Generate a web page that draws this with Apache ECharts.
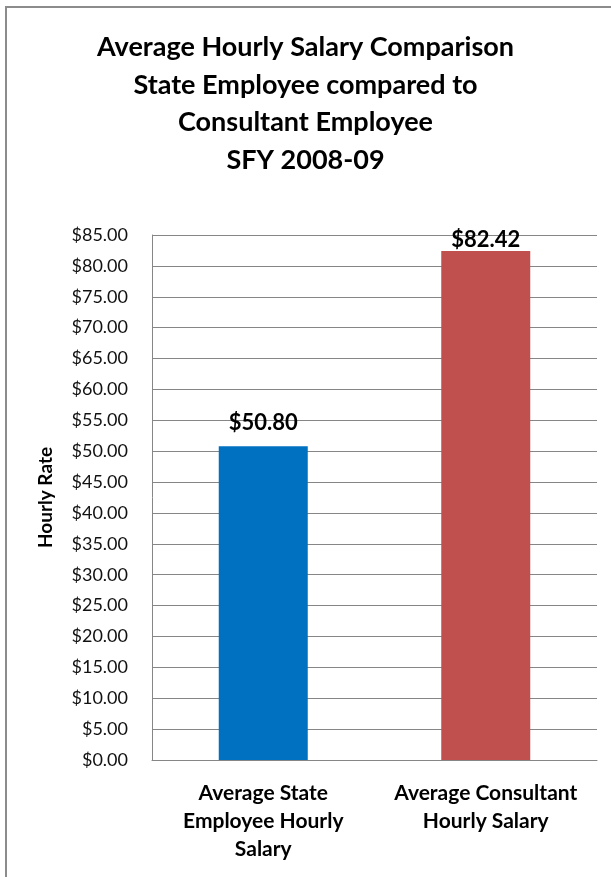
<!DOCTYPE html>
<html>
	<head>
		<meta charset="utf-8" />
		<title>Average Hourly Salary Comparison</title>
		<style type="text/css">
			body { margin: 0; background: #fff; }
			#wrap { position: relative; width: 611px; height: 877px; }
			#frame { position: absolute; left: 5px; top: 6px; right: 0; bottom: 0;
				border-left: 2px solid #8c8c8c; border-top: 2px solid #8c8c8c; }
			#chart { position: absolute; left: 0; top: 0; width: 611px; height: 877px; }
		</style>
	</head>
	<body>
		<div id="wrap">
			<div id="frame"></div>
			<div id="chart"></div>
		</div>
	</body>
</html>
<script src="https://cdn.jsdelivr.net/npm/echarts@6/dist/echarts.min.js"></script>
<script>
	var titleLines = ['Average Hourly Salary Comparison', 'State Employee compared to', 'Consultant Employee', 'SFY 2008-09'];
	var categories = ['Average State\nEmployee Hourly\nSalary', 'Average Consultant\nHourly Salary'];
	var salaries = [50.80, 82.42];
	var barColors = ['#0070C0', '#C0504D'];
	var yMin = 0, yMax = 85, yStep = 5;

	var font = 'Lato, "Open Sans", sans-serif';
	var labelGap = [12, 0];

	var myChart = echarts.init(document.getElementById('chart'));

	var options = {
		animation: false,
		title: {
			text: titleLines.join('\n'),
			left: 'center',
			top: 24,
			textStyle: {
				fontFamily: font,
				fontSize: 27,
				fontWeight: 'bold',
				color: '#000',
				lineHeight: 37.5
			}
		},
		grid: {
			left: 152,
			right: 14,
			top: 235,
			bottom: 117
		},
		xAxis: {
			type: 'category',
			data: categories,
			axisLine: { lineStyle: { color: '#868686', width: 1 } },
			axisTick: { show: false },
			axisLabel: {
				interval: 0,
				hideOverlap: false,
				margin: 19,
				fontFamily: font,
				fontSize: 21,
				fontWeight: 'bold',
				color: '#000',
				lineHeight: 28
			}
		},
		yAxis: {
			type: 'value',
			min: yMin,
			max: yMax,
			interval: yStep,
			name: 'Hourly Rate',
			nameLocation: 'middle',
			nameGap: 97,
			nameRotate: 90,
			nameTextStyle: {
				fontFamily: font,
				fontSize: 19,
				fontWeight: 'bold',
				color: '#000'
			},
			axisLine: { show: true, lineStyle: { color: '#868686', width: 1 } },
			axisTick: { show: false },
			splitLine: { lineStyle: { color: '#868686', width: 1 } },
			axisLabel: {
				margin: 24,
				fontFamily: font,
				fontSize: 18,
				color: '#111',
				formatter: function (v) { return '$' + v.toFixed(2); }
			}
		},
		series: [
			{
				type: 'bar',
				barWidth: '40%',
				data: salaries.map(function (v, i) {
					return {
						value: v,
						itemStyle: { color: barColors[i] },
						label: { distance: labelGap[i] }
					};
				}),
				label: {
					show: true,
					position: 'top',
					fontFamily: font,
					fontSize: 22,
					fontWeight: 'bold',
					color: '#000',
					formatter: function (p) { return '$' + p.value.toFixed(2); }
				}
			}
		]
	};

	myChart.setOption(options);
</script>
